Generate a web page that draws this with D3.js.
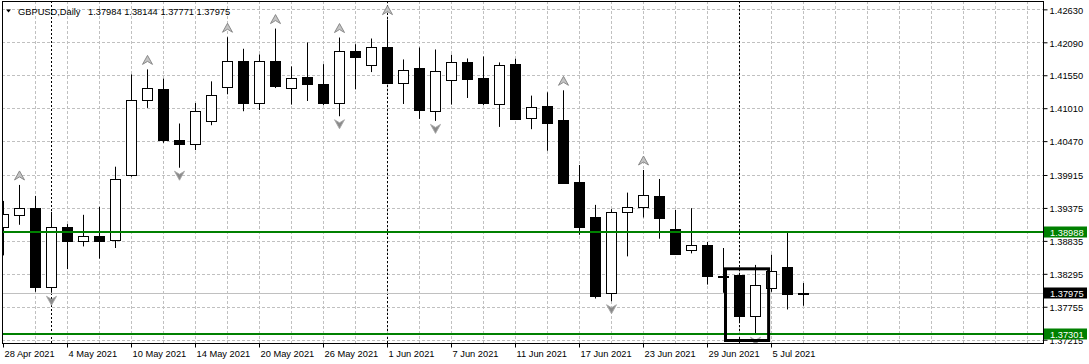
<!DOCTYPE html>
<html><head><meta charset="utf-8">
<script src="https://cdn.jsdelivr.net/npm/d3@7"></script>
<style>
html,body{margin:0;padding:0;background:#fff;}
svg{display:block;}
text{font-family:"Liberation Sans",Arial,sans-serif;}
</style></head><body>
<svg id="chart" width="1089" height="364"></svg>
<script>
const symbol = "GBPUSD";
const timeframe = "Daily";
const dates = ["2021-04-28","2021-04-29","2021-04-30","2021-05-03","2021-05-04","2021-05-05","2021-05-06","2021-05-07",
"2021-05-10","2021-05-11","2021-05-12","2021-05-13","2021-05-14","2021-05-17","2021-05-18","2021-05-19","2021-05-20",
"2021-05-21","2021-05-24","2021-05-25","2021-05-26","2021-05-27","2021-05-28","2021-05-31","2021-06-01","2021-06-02",
"2021-06-03","2021-06-04","2021-06-07","2021-06-08","2021-06-09","2021-06-10","2021-06-11","2021-06-14","2021-06-15",
"2021-06-16","2021-06-17","2021-06-18","2021-06-21","2021-06-22","2021-06-23","2021-06-24","2021-06-25","2021-06-28",
"2021-06-29","2021-06-30","2021-07-01","2021-07-02","2021-07-05","2021-07-06","2021-07-07"];
const open = [1.39055,1.39251,1.39371,1.38081,1.39061,1.38837,1.38914,1.38849,1.39910,1.41151,1.41331,1.40486,1.40426,
1.40792,1.41363,1.41788,1.41102,1.41788,1.41347,1.41527,1.41412,1.41102,1.41951,1.41722,1.42016,1.41429,1.41662,1.40971,
1.41478,1.41771,1.41499,1.41086,1.41727,1.40841,1.41042,1.40813,1.39801,1.39229,1.37984,1.39306,1.39397,1.39572,1.39028,
1.38686,1.38772,1.38255,1.38282,1.37602,1.38065,1.38413,1.37984];
const high = [1.39490,1.39752,1.39572,1.39311,1.39110,1.39262,1.39393,1.40051,1.41564,1.41646,1.41494,1.40759,1.41095,
1.41450,1.42173,1.41984,1.41891,1.42315,1.41695,1.42087,1.41732,1.42168,1.42059,1.42152,1.42462,1.41809,1.42005,1.41972,
1.41886,1.41825,1.41858,1.41760,1.41820,1.41216,1.41270,1.41303,1.40078,1.39425,1.39355,1.39626,1.39997,1.39850,1.39344,
1.39371,1.38816,1.38718,1.38300,1.38441,1.38609,1.38973,1.38144];
const low = [1.38597,1.39099,1.38000,1.37984,1.38372,1.38744,1.38544,1.38718,1.39887,1.41014,1.40442,1.40034,1.40323,
1.40731,1.41238,1.40960,1.40981,1.41340,1.41069,1.41128,1.41058,1.40878,1.41319,1.41602,1.41401,1.41079,1.40834,1.40802,
1.41069,1.41177,1.41058,1.40703,1.40830,1.40666,1.40312,1.39776,1.38935,1.37890,1.37846,1.38581,1.39218,1.38870,1.38609,
1.38630,1.38119,1.37984,1.37499,1.37314,1.38000,1.37711,1.37771];
const close = [1.39273,1.39371,1.38075,1.39055,1.38826,1.38914,1.38826,1.39845,1.41140,1.41347,1.40491,1.40426,1.40971,
1.41233,1.41788,1.41095,1.41788,1.41373,1.41510,1.41412,1.41095,1.41951,1.41847,1.42016,1.41422,1.41641,1.40981,1.41613,
1.41771,1.41487,1.41095,1.41722,1.40834,1.41037,1.40769,1.39789,1.39055,1.37939,1.39306,1.39397,1.39584,1.39202,1.38614,
1.38761,1.38255,1.38245,1.37602,1.38114,1.38348,1.37972,1.37975];
const priceTicks = [1.42630,1.42090,1.41550,1.41010,1.40470,1.39915,1.39375,1.38835,1.38295,1.37755,1.37215];
const dateTickIndex = [0,4,8,12,16,20,24,28,32,36,40,44,48];
const levelPrices = [1.38988, 1.37301];
const separatorIndex = [3, 24, 46];
const fractalUp = [1, 9, 14, 17, 21, 24, 35, 40];
const fractalDown = [3, 11, 21, 27, 38, 47];
const boxBars = [45.125, 47.82];
const boxPrices = [1.38377, 1.37202];

const L = 2, R = 1043, T = 1, B = 343;
const FS = "9.3px";
const svg = d3.select("#chart");
const x = d3.scaleLinear().domain([-0.09375, 64.96875]).range([L, R]);
const y = d3.scaleLinear().domain([1.37161, 1.42767]).range([B, T]);
const bars = d3.range(dates.length);
const fmt5 = d3.format(".5f");
const parse = d3.timeParse("%Y-%m-%d");
const dfmt = d3.timeFormat("%-d %b %Y");

svg.append("rect").attr("width",1089).attr("height",364).attr("fill","#fff");
svg.append("defs").append("clipPath").attr("id","clip").append("rect")
  .attr("x",L).attr("y",T).attr("width",R-L).attr("height",B-T);
const plot = svg.append("g").attr("clip-path","url(#clip)");

// grid
plot.append("g").selectAll("line").data(priceTicks).join("line")
  .attr("x1",L).attr("x2",R)
  .attr("y1",d=>Math.round(y(d))+0.5).attr("y2",d=>Math.round(y(d))+0.5)
  .attr("stroke","#c0c0c0").attr("stroke-dasharray","3,2");
plot.append("g").selectAll("line").data(d3.range(2,65,2)).join("line")
  .attr("x1",d=>x(d)).attr("x2",d=>x(d)).attr("y1",T).attr("y2",B)
  .attr("stroke","#c0c0c0").attr("stroke-dasharray","3,2");
// period separators
plot.append("g").selectAll("line").data(separatorIndex).join("line")
  .attr("x1",d=>x(d)).attr("x2",d=>x(d)).attr("y1",T).attr("y2",B)
  .attr("stroke","#000").attr("stroke-dasharray","2,2");
// bid line
plot.append("line").attr("x1",L).attr("x2",R)
  .attr("y1",Math.round(y(close[close.length-1]))+0.5).attr("y2",Math.round(y(close[close.length-1]))+0.5)
  .attr("stroke","#c0c0c0");

// candles
plot.append("g").selectAll("line").data(bars).join("line")
  .attr("x1",i=>x(i)).attr("x2",i=>x(i))
  .attr("y1",i=>y(high[i])).attr("y2",i=>y(low[i]))
  .attr("stroke","#000");
plot.append("g").selectAll("rect").data(bars).join("rect")
  .attr("x",i=>x(i)-5).attr("width",10)
  .attr("y",i=>Math.round(y(Math.max(open[i],close[i])))+0.5)
  .attr("height",i=>Math.max(1, Math.round(y(Math.min(open[i],close[i]))) - Math.round(y(Math.max(open[i],close[i])))))
  .attr("fill",i=>close[i]>=open[i]?"#fff":"#000")
  .attr("stroke","#000");

// fractals
plot.append("g").selectAll("path").data(fractalUp).join("path")
  .attr("transform",i=>`translate(${x(i)},${y(high[i])-9.5})`)
  .attr("d","M0,-4.5L5,4.5L0,1.5L-5,4.5Z")
  .attr("fill","#c4c4c4").attr("stroke","#808080").attr("stroke-width",0.9);
plot.append("g").selectAll("path").data(fractalDown).join("path")
  .attr("transform",i=>`translate(${x(i)},${y(low[i])+8})`)
  .attr("d","M0,4.5L5,-4.5L0,-1.5L-5,-4.5Z")
  .attr("fill","#8a8a8a").attr("stroke","#a8a8a8").attr("stroke-width",0.9);

// horizontal levels
plot.append("g").selectAll("line").data(levelPrices).join("line")
  .attr("x1",L).attr("x2",R)
  .attr("y1",d=>Math.round(y(d))).attr("y2",d=>Math.round(y(d)))
  .attr("stroke","#008000").attr("stroke-width",2);

// rectangle object
plot.append("rect")
  .attr("x",x(boxBars[0])).attr("width",x(boxBars[1])-x(boxBars[0]))
  .attr("y",y(boxPrices[0])).attr("height",y(boxPrices[1])-y(boxPrices[0]))
  .attr("fill","none").attr("stroke","#000").attr("stroke-width",3);

// frame
svg.append("rect").attr("x",L+0.5).attr("y",T+0.5).attr("width",R-L).attr("height",B-T)
  .attr("fill","none").attr("stroke","#000");

// right axis
const ya = svg.append("g").attr("transform",`translate(${R+0.5},0)`)
  .call(d3.axisRight(y).tickValues(priceTicks).tickSize(4).tickPadding(2).tickFormat(fmt5));
ya.select(".domain").remove();
ya.selectAll("line").attr("stroke","#000");
ya.selectAll("text").attr("font-size",FS).attr("fill","#000").attr("dy","0.40em")
  .attr("font-family","Liberation Sans, Arial, sans-serif");

// bottom axis
const xa = svg.append("g").attr("transform",`translate(0,${B+0.5})`)
  .call(d3.axisBottom(x).tickValues(dateTickIndex).tickSize(4).offset(0)
    .tickFormat(i=>dfmt(parse(dates[i]))));
xa.select(".domain").remove();
xa.selectAll("line").attr("stroke","#000");
xa.selectAll("text").attr("font-size",FS).attr("fill","#000")
  .attr("text-anchor","start").attr("x",1).attr("y",13).attr("dy",0)
  .attr("font-family","Liberation Sans, Arial, sans-serif");

// price label boxes
const tags = [
  {p: levelPrices[0], bg: "#008000"},
  {p: close[close.length-1], bg: "#000"},
  {p: levelPrices[1], bg: "#008000"}
];
const tg = svg.append("g").selectAll("g").data(tags).join("g")
  .attr("transform",d=>`translate(${R+1},${Math.round(y(d.p))})`);
tg.append("rect").attr("x",0).attr("y",-5.5).attr("width",43).attr("height",11).attr("fill",d=>d.bg);
tg.append("text").attr("x",6).attr("y",3.6).attr("font-size",FS).attr("fill","#fff").text(d=>fmt5(d.p));

// title
const n = dates.length-1;
svg.append("path").attr("d","M6,9.5L11,9.5L8.5,12.5Z").attr("fill","#000");
svg.append("text").attr("x",18).attr("y",15).attr("font-size",FS).attr("fill","#000")
  .text(`${symbol},${timeframe}`);
svg.append("text").attr("x",88).attr("y",15).attr("font-size",FS).attr("fill","#000")
  .text([open[n],high[n],low[n],close[n]].map(fmt5).join(" "));
</script>
</body></html>
